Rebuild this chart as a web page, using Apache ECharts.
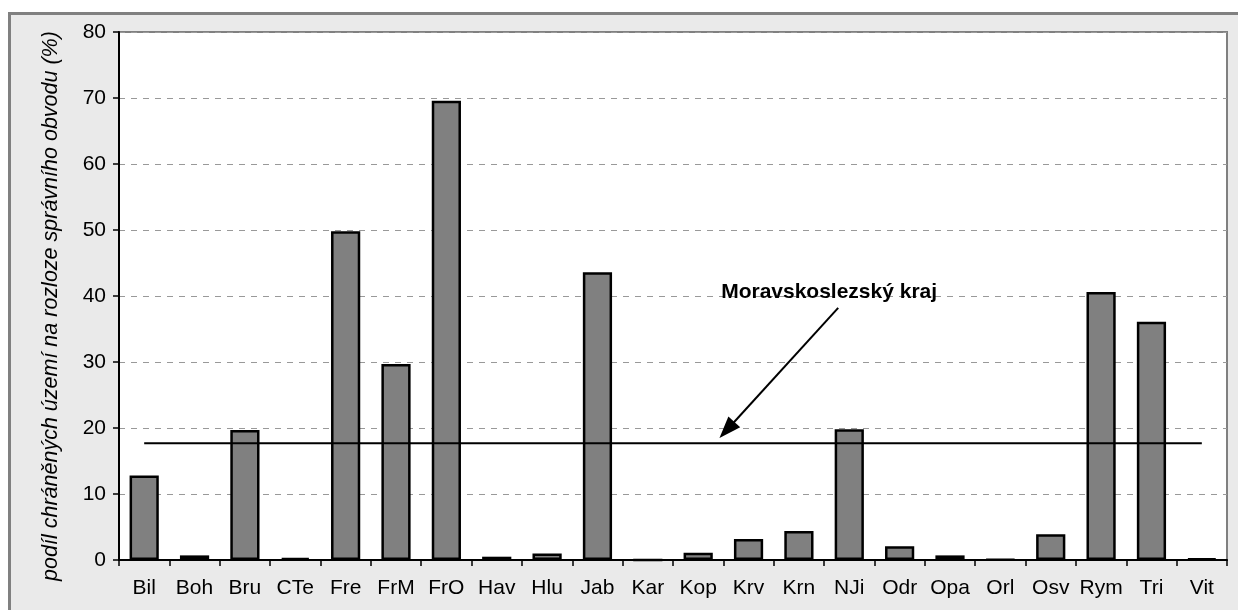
<!DOCTYPE html>
<html><head><meta charset="utf-8">
<script src="https://cdn.jsdelivr.net/npm/echarts@6/dist/echarts.min.js"></script>
<style>html,body{margin:0;padding:0;background:#fff}#c{width:1238px;height:610px}</style>
</head><body><div id="c"></div>
<script>
const categories = ['Bil','Boh','Bru','CTe','Fre','FrM','FrO','Hav','Hlu','Jab','Kar','Kop','Krv','Krn','NJi','Odr','Opa','Orl','Osv','Rym','Tri','Vit'];
const shares = [12.8,0.7,19.7,0.3,49.8,29.7,69.6,0.5,1.0,43.6,0.0,1.1,3.2,4.4,19.8,2.1,0.7,0.1,3.9,40.6,36.1,0.2];
const regionValue = 17.7;
const yTicks = {min:0, max:80, interval:10};
const annotationText = 'Moravskoslezský kraj';
const annotationLabelAt = [13.6, 40.6];
const arrowFrom = [13.78, 38.2];
const arrowTo = [11.57, 19.7];
const yTitle = 'podíl chráněných území na rozloze správního obvodu (%)';

const FONT = 'Liberation Sans, Arial, sans-serif';
const chart = echarts.init(document.getElementById('c'), null, {renderer:'canvas'});
chart.setOption({
  backgroundColor:'#ffffff',
  animation:false,
  graphic:[{type:'rect', z:-10, shape:{x:9.5,y:13.5,width:1240,height:610}, style:{fill:'#eaeaea', stroke:'#808080', lineWidth:3}}],
  grid:{left:119, top:32, right:11, bottom:50, show:true, backgroundColor:'#ffffff', borderColor:'#808080', borderWidth:2, containLabel:false},
  xAxis:[{
    type:'category', data:categories, boundaryGap:true,
    axisLine:{onZero:false, lineStyle:{color:'#000', width:2}},
    axisTick:{show:true, alignWithLabel:false, length:6, lineStyle:{color:'#000', width:1.5}},
    axisLabel:{color:'#000', fontFamily:FONT, fontSize:21, margin:18, interval:0},
    splitLine:{show:false}
  },{
    type:'value', min:-0.5, max:categories.length-0.5, show:false,
    axisLine:{show:false, onZero:false}, splitLine:{show:false}
  }],
  yAxis:{
    type:'value', min:yTicks.min, max:yTicks.max, interval:yTicks.interval,
    name:yTitle, nameLocation:'middle', nameGap:57, nameRotate:90,
    nameTextStyle:{color:'#000', fontFamily:FONT, fontSize:21.5, fontStyle:'italic', padding:[0,20,0,0]},
    axisLine:{show:true, onZero:false, lineStyle:{color:'#000', width:2}},
    axisTick:{show:true, length:6, lineStyle:{color:'#000', width:1.5}},
    axisLabel:{color:'#000', fontFamily:FONT, fontSize:21, margin:13},
    splitLine:{show:true, lineStyle:{color:'#999', type:[6,6], width:1}}
  },
  series:[{
    type:'bar', data:shares, barWidth:'58%', xAxisIndex:0,
    itemStyle:{color:'#808080', borderColor:'#000', borderWidth:2.5},
    z:2
  },{
    type:'line', data:categories.map(()=>regionValue), xAxisIndex:0,
    symbol:'none', lineStyle:{color:'#000', width:2}, z:5
  },{
    type:'scatter', xAxisIndex:1, data:[], z:6,
    markLine:{silent:true, symbol:['none','triangle'], symbolSize:[16,22],
      lineStyle:{color:'#000', width:2, type:'solid'}, label:{show:false},
      data:[[{coord:arrowFrom},{coord:arrowTo}]]},
    markPoint:{silent:true, symbol:'rect', symbolSize:0,
      label:{show:true, position:'inside', formatter:annotationText, color:'#000', fontFamily:FONT, fontSize:21, fontWeight:'bold'},
      data:[{coord:annotationLabelAt}]}
  }]
});
</script></body></html>
